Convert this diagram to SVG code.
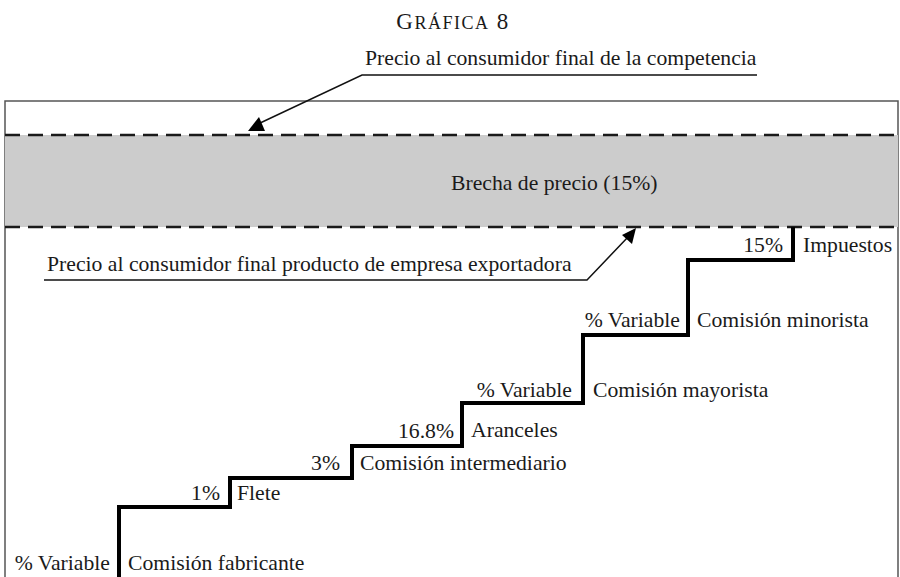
<svg xmlns="http://www.w3.org/2000/svg" width="900" height="577" viewBox="0 0 900 577">
<style>
text{font-family:"Liberation Serif","Times New Roman",serif;font-size:21.7px;fill:#1a1a1a}
text.title{font-size:23px;letter-spacing:1.5px}
.sc{font-size:18px}
.dash{stroke:#1a1a1a;stroke-width:2.5;stroke-dasharray:15 8;fill:none}
.lead{stroke:#111;stroke-width:1.5;fill:none}
.head{fill:#000}
.end{text-anchor:end}
</style>
<rect width="900" height="577" fill="#fff"/>
<g id="title">
<text class="title" x="453" y="29" text-anchor="middle">G<tspan class="sc">RÁFICA</tspan> 8</text>
</g>
<g id="frame">
<rect x="5" y="101" width="893" height="490" fill="#fff" stroke="#555" stroke-width="1.5"/>
</g>
<g id="gap">
<rect x="5" y="135" width="893" height="92" fill="#cccccc"/>
<line class="dash" x1="5" y1="135" x2="898" y2="135"/>
<line class="dash" x1="5" y1="227" x2="898" y2="227"/>
<text x="451" y="190">Brecha de precio (15%)</text>
</g>
<g id="label-competencia">
<text x="365" y="65">Precio al consumidor final de la competencia</text>
</g>
<g id="label-exportadora">
<text x="47" y="271">Precio al consumidor final producto de empresa exportadora</text>
</g>
<g id="connectors">
<polyline class="lead" points="757,75 362,75 258,124"/>
<polygon class="head" points="248,131 265,131 259,117"/>
<polyline class="lead" points="44,280 587,280 628,237"/>
<polygon class="head" points="636,228 622,235 632,244"/>
</g>
<g id="staircase">
<path d="M119,580 V507 H230 V478 H352 V446 H462 V403 H583 V335 H688 V260 H793 V227" fill="none" stroke="#000" stroke-width="4" stroke-linejoin="miter"/>
</g>
<g id="step-fabricante">
<text class="end" x="110" y="570">% Variable</text>
<text x="128" y="570">Comisión fabricante</text>
</g>
<g id="step-flete">
<text class="end" x="220" y="500">1%</text>
<text x="237" y="500">Flete</text>
</g>
<g id="step-intermediario">
<text class="end" x="340" y="470">3%</text>
<text x="360" y="470">Comisión intermediario</text>
</g>
<g id="step-aranceles">
<text class="end" x="454" y="438">16.8%</text>
<text x="471" y="437">Aranceles</text>
</g>
<g id="step-mayorista">
<text class="end" x="572" y="397">% Variable</text>
<text x="593" y="397">Comisión mayorista</text>
</g>
<g id="step-minorista">
<text class="end" x="680" y="327">% Variable</text>
<text x="697" y="327">Comisión minorista</text>
</g>
<g id="step-impuestos">
<text class="end" x="783" y="252">15%</text>
<text x="803" y="252">Impuestos</text>
</g>
</svg>
